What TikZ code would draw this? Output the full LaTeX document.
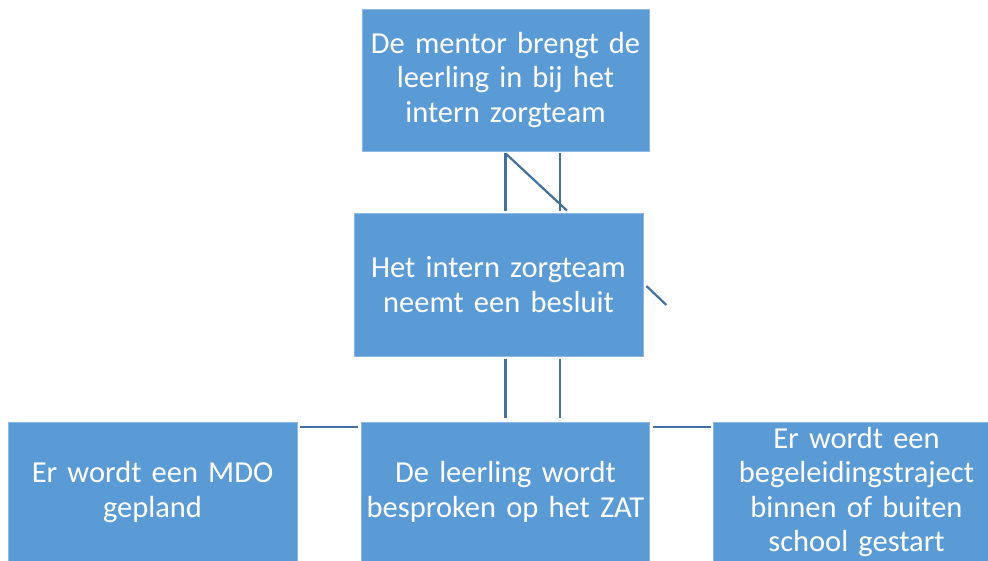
\documentclass[tikz,border=0pt]{standalone}
\usepackage{fontspec}
\setmainfont{Carlito}
\usetikzlibrary{calc}
\definecolor{boxblue}{RGB}{91,155,213}
\definecolor{boxedge}{RGB}{140,185,228}
\definecolor{linkblue}{RGB}{65,113,156}
\tikzset{
  stepbox/.style={rectangle, fill=boxblue, draw=boxedge, line width=0.8pt,
    text=white, align=center, inner sep=0pt,
    font=\fontsize{30.5}{34.3}\selectfont},
  link/.style={draw=linkblue, line width=2.2pt}
}
\begin{document}
\begin{tikzpicture}[x=1pt,y=-1pt]
\useasboundingbox (0,0) rectangle (988,560);
\begin{scope}
\clip (0,0) rectangle (988,560);
\node[stepbox, minimum width=287pt, minimum height=142pt, text width=287pt] (top) at (505.5,80) {De mentor brengt de\\leerling in bij het\\intern zorgteam};
\node[stepbox, minimum width=289pt, minimum height=143pt, text width=289pt] (mid) at (498.5,284.5) {Het intern zorgteam\\neemt een besluit};
\node[stepbox, minimum width=289pt, minimum height=140pt, text width=289pt] (bl) at (152.5,492) {Er wordt een MDO\\gepland};
\node[stepbox, minimum width=288pt, minimum height=140pt, text width=288pt] (bm) at (505.5,492) {De leerling wordt\\besproken op het ZAT};
\node[stepbox, minimum width=287pt, minimum height=140pt, text width=287pt] (br) at (856.5,492) {Er wordt een\\begeleidingstraject\\binnen of buiten\\school gestart};

% connectors between top and middle
\coordinate (a1) at ($(top.south)+(0,2)$);
\coordinate (a2) at ($(top.south)+(54.5,2)$);
\coordinate (b1) at ($(mid.north)+(7,-2)$);
\coordinate (b2) at ($(mid.north)+(61.5,-2)$);
\coordinate (b3) at ($(mid.north)+(68.5,-2)$);
\draw[link] (a1) -- (b1);
\draw[link] (a2) -- (b2);
\draw[link] (a1) -- (b3);
% stray segment right of middle box
\coordinate (c1) at ($(mid.east)+(3,1.5)$);
\coordinate (c2) at ($(mid.east)+(23,20.5)$);
\draw[link] (c1) -- (c2);
% connectors between middle and bottom
\coordinate (d1) at ($(mid.south)+(7,3)$);
\coordinate (d2) at ($(mid.south)+(61.5,3)$);
\coordinate (e1) at ($(bm.north)+(0,-4)$);
\coordinate (e2) at ($(bm.north)+(54.5,-4)$);
\draw[link] (d1) -- (e1);
\draw[link] (d2) -- (e2);
% horizontal connectors
\coordinate (f1) at ($(bl.north east)+(3,5)$);
\coordinate (f2) at ($(bm.north west)+(-3,5)$);
\coordinate (g1) at ($(bm.north east)+(3,5)$);
\coordinate (g2) at ($(br.north west)+(-2,5)$);
\draw[link] (f1) -- (f2);
\draw[link] (g1) -- (g2);
\end{scope}
\end{tikzpicture}
\end{document}
